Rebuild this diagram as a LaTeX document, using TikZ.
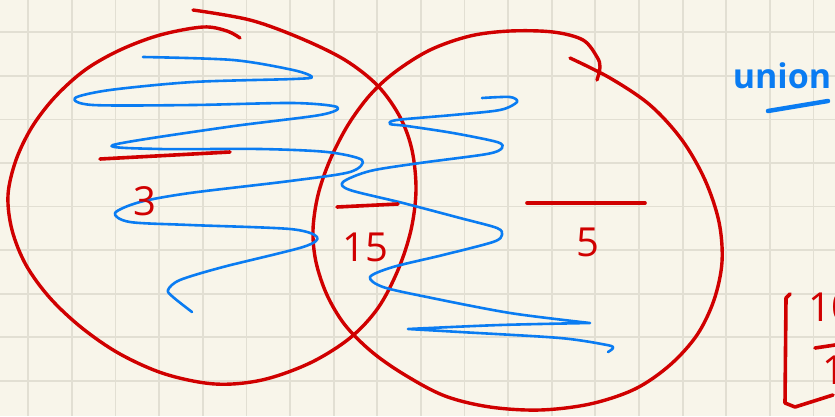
\documentclass[tikz,border=0pt]{standalone}
\usepackage{fontspec}
\setmainfont{Open Sans}
\definecolor{paper}{HTML}{F8F5EA}
\definecolor{gridline}{HTML}{E2DFD3}
\definecolor{inkred}{HTML}{D00000}
\definecolor{inkblue}{HTML}{0A7CF2}

\begin{document}
\begin{tikzpicture}[
  x=1pt,y=-1pt,
  ring/.style={draw=inkred,line width=3.4pt,line cap=round,line join=round},
  scribble/.style={draw=inkblue,line width=2.6pt,line cap=round,line join=round},
  bar/.style={draw=inkred,line width=3.6pt,line cap=round,line join=round},
  digit/.style={text=inkred,font=\fontsize{40}{40}\selectfont,inner sep=0pt},
  note/.style={text=inkblue,font=\bfseries\fontsize{34}{34}\selectfont,inner sep=0pt}
]
\fill[paper] (0,0) rectangle (835,416);
\useasboundingbox (0,0) rectangle (835,416);
\foreach \gx in {0,...,18}
  \draw[gridline,line width=1.8pt] ({28.3+43.62*\gx},0) -- ({28.3+43.62*\gx},416);
\foreach \gy in {0,...,8}
  \draw[gridline,line width=1.8pt] (0,{32.3+43.55*\gy}) -- (835,{32.3+43.55*\gy});

\draw[ring] plot[smooth,tension=0.55] coordinates {(240,38) (227,31) (203,27) (160,35) (120,50) (85,70) (55,97) (32,127) (16,160) (8,195) (12,230) (26,265) (50,298) (82,328) (120,354) (165,374) (215,384) (262,380) (310,363) (350,338) (378,308) (398,270) (411,230) (416,190) (412,150) (400,117) (378,86) (345,60) (300,38) (250,20) (193,10)};
\draw[ring] plot[smooth,tension=0.55] coordinates {(570,58) (610,78) (650,105) (682,140) (705,180) (719,222) (722,262) (714,300) (697,335) (670,365) (635,389) (590,404) (540,410) (490,407) (445,396) (405,375) (372,352) (345,325) (327,295) (316,262) (313,230) (318,195) (330,160) (348,125) (370,95) (395,72) (430,50) (470,36) (510,31) (553,32) (583,40) (597,57) (600,67) (597,80)};

\draw[scribble] plot[smooth,tension=0.5] coordinates {(143,57) (233,60) (293,70) (312,77) (293,79) (193,82) (110,90) (75,98) (93,105) (193,105) (293,103) (337,107) (320,115) (227,127) (113,145) (160,149) (260,149) (327,152) (362,160) (350,172) (290,181) (190,193) (140,202) (115,213) (130,222) (190,225) (290,229) (317,237) (303,247) (223,267) (180,280) (168,290) (173,297) (192,312)};
\draw[scribble] plot[smooth,tension=0.5] coordinates {(482,98) (510,97) (517,102) (500,110) (453,115) (397,120) (390,124) (407,126) (453,133) (497,142) (502,148) (487,154) (420,163) (370,171) (343,182) (350,190) (403,203) (460,218) (497,228) (502,235) (493,242) (443,255) (393,267) (370,277) (383,287) (427,297) (510,313) (590,323)}
  plot[smooth,tension=0.5] coordinates {(590,323) (500,325) (408,329)}
  plot[smooth,tension=0.5] coordinates {(408,329) (460,332) (560,338) (607,345) (613,348) (608,352)};

\draw[bar] (100,159) -- (230,152);
\draw[bar] (337,207) -- (398,204);
\draw[bar] (527,203) -- (645,203);
\node[digit] (three) at (145,201) {3};
\node[digit] (fifteen) at (365,247) {15};
\node[digit] (five) at (588,242) {5};

\node[note] (union) at (782,76) {union};
\draw[scribble,line width=4.5pt] (768,111) -- (828,101);

\draw[bar] (790,294) -- (786,298) -- (785,403) -- (795,407) -- (833,395);
\node[digit,anchor=west] (upper) at (808,307) {10};
\draw[bar] (815,348) -- (835,345);
\node[digit,anchor=west] (lower) at (822,370) {15};
\end{tikzpicture}
\end{document}
